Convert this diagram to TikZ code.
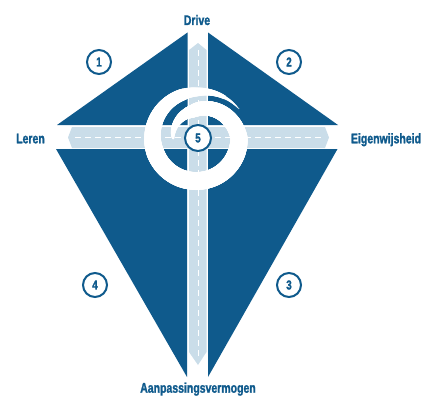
\documentclass[tikz,border=0pt]{standalone}
\usepackage{fontspec}
\setmainfont[FakeStretch=0.75, BoldFeatures={FakeBold=1.5}]{Liberation Sans}
\usetikzlibrary{positioning}

\definecolor{kiteblue}{HTML}{0F5A8C}
\definecolor{stickblue}{HTML}{CADDE9}

\begin{document}
\begin{tikzpicture}[x=1pt, y=-1pt,
    label/.style={font=\bfseries\fontsize{14}{14}\selectfont, text=kiteblue, inner sep=0pt, anchor=base},
    num/.style={circle, draw=kiteblue, line width=2pt, fill=white, minimum size=24pt, inner sep=0pt, font=\bfseries\fontsize{13}{13}\selectfont, text=kiteblue},
    declare function={
      sr(\t)=(\t<90) ? 51-5*(\t-35)/55 : ((\t<270) ? 46-3*(\t-90)/180 : ((\t<360) ? 43-1*(\t-270)/90 : ((\t<460) ? 42-15*(\t-360)/100 : 27-3*(\t-460)/80)));
      sw(\t)=(\t<110) ? 1+11*(\t-35)/75 : ((\t<200) ? 12+6*(\t-110)/90 : ((\t<340) ? 18 : ((\t<450) ? 18-4*(\t-340)/110 : 14-11*(\t-450)/90)));
    }]
  \useasboundingbox (0,0) rectangle (444,396);

  % Kite quarters
  \fill[kiteblue] (187.5,32.5) -- (57,125) -- (187.5,125) -- cycle;
  \fill[kiteblue] (208,32.5) -- (338,125) -- (208,125) -- cycle;
  \fill[kiteblue] (56,149) -- (187,149) -- (187,377) -- cycle;
  \fill[kiteblue] (208,149) -- (337.5,149) -- (208,377) -- cycle;

  % Sticks
  \fill[stickblue] (189,50) -- (198,43) -- (206.5,50) -- (206.5,352) -- (198,365) -- (189,352) -- cycle;
  \fill[stickblue] (72,127) -- (325,127) -- (329,137.5) -- (325,148) -- (72,148) -- (68,137.5) -- cycle;
  \draw[white, line width=1pt, dash pattern=on 6pt off 4pt] (198,50) -- (198,358);
  \draw[white, line width=1pt, dash pattern=on 6pt off 4pt] (75,137.5) -- (322,137.5);

  % Swirl
  \foreach \t in {35,36,...,540}{
    \pgfmathsetmacro\rr{sr(\t)}
    \pgfmathsetmacro\ww{sw(\t)}
    \fill[white] ({197+\rr*cos(\t)},{138-\rr*sin(\t)}) circle ({\ww/2});
  }

  % Numbers
  \node[num] (n1) at (99,62) {1};
  \node[num] (n2) at (289,62) {2};
  \node[num] (n3) at (289,285) {3};
  \node[num] (n4) at (95,285) {4};
  \node[num, minimum size=26pt] (n5) at (198,138) {5};

  % Labels
  \node[label] (drive) at (197,25) {Drive};
  \node[label] (leren) at (30.5,143.3) {Leren};
  \node[label] (eigen) at (386,143.3) {Eigenwijsheid};
  \node[label] (aanp) at (198,392.7) {Aanpassingsvermogen};
\end{tikzpicture}
\end{document}
